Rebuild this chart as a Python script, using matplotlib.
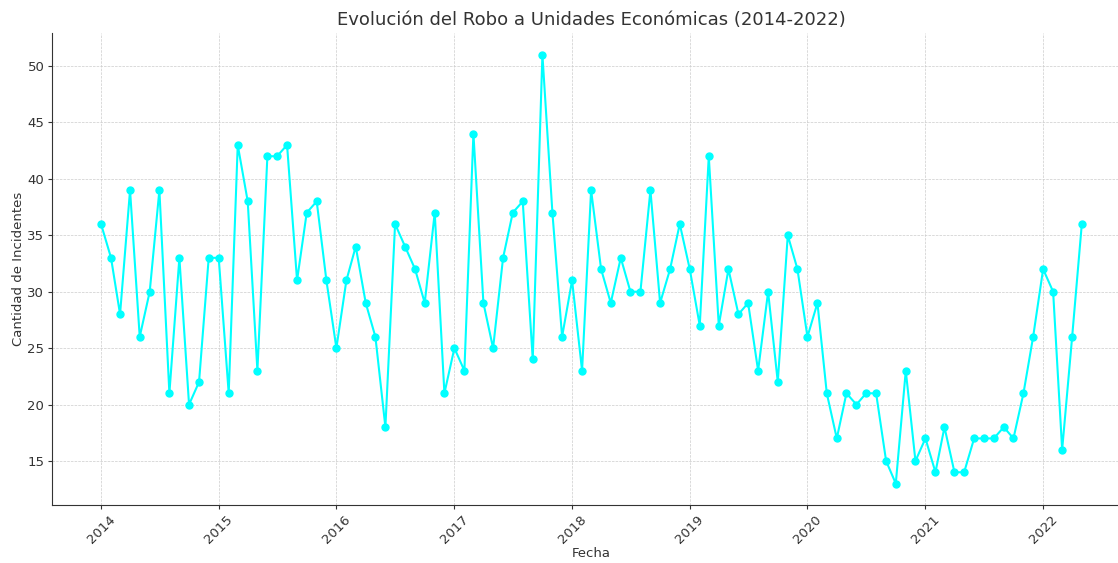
import numpy as np
import pandas as pd
import matplotlib
matplotlib.use("Agg")
import matplotlib.pyplot as plt
import matplotlib.dates as mdates

# monthly data, Jan 2014 - May 2022
start_month = "2014-01-01"
incidentes_2014 = [36, 33, 28, 39, 26, 30, 39, 21, 33, 20, 22, 33]
incidentes_2015 = [33, 21, 43, 38, 23, 42, 42, 43, 31, 37, 38, 31]
incidentes_2016 = [25, 31, 34, 29, 26, 18, 36, 34, 32, 29, 37, 21]
incidentes_2017 = [25, 23, 44, 29, 25, 33, 37, 38, 24, 51, 37, 26]
incidentes_2018 = [31, 23, 39, 32, 29, 33, 30, 30, 39, 29, 32, 36]
incidentes_2019 = [32, 27, 42, 27, 32, 28, 29, 23, 30, 22, 35, 32]
incidentes_2020 = [26, 29, 21, 17, 21, 20, 21, 21, 15, 13, 23, 15]
incidentes_2021 = [17, 14, 18, 14, 14, 17, 17, 17, 18, 17, 21, 26]
incidentes_2022 = [32, 30, 16, 26, 36]

valores = (incidentes_2014 + incidentes_2015 + incidentes_2016 + incidentes_2017
           + incidentes_2018 + incidentes_2019 + incidentes_2020 + incidentes_2021
           + incidentes_2022)
fechas = pd.date_range(start_month, periods=len(valores), freq="MS")

text_color = "#333333"
plt.rcParams["text.color"] = text_color
plt.rcParams["axes.labelcolor"] = text_color
plt.rcParams["xtick.color"] = text_color
plt.rcParams["ytick.color"] = text_color

fig = plt.figure(figsize=(11.18, 5.63), dpi=100)
ax = fig.add_axes([0.0465, 0.103, 0.965, 0.838])

ax.plot(fechas, valores, color="#00FFFF", marker="o", markersize=5, linewidth=1.5)

ax.set_title("Evolución del Robo a Unidades Económicas (2014-2022)", fontsize=13, color=text_color)
ax.set_xlabel("Fecha", fontsize=9.5, labelpad=1)
ax.set_ylabel("Cantidad de Incidentes", fontsize=9.5, labelpad=2)

ax.xaxis.set_major_locator(mdates.YearLocator())
ax.xaxis.set_major_formatter(mdates.DateFormatter("%Y"))
plt.setp(ax.get_xticklabels(), rotation=45)
ax.tick_params(labelsize=9.5, length=3, pad=2.5)

ax.grid(True, linestyle="--", linewidth=0.5, color="#cccccc")
ax.spines["top"].set_visible(False)
ax.spines["right"].set_visible(False)
ax.spines["left"].set_color(text_color)
ax.spines["bottom"].set_color(text_color)

fig.savefig("out.png", dpi=100)
